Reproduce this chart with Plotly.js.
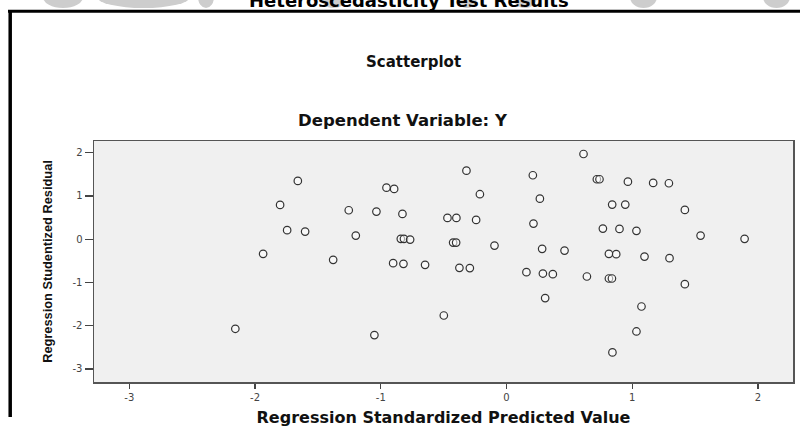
<!DOCTYPE html>
<html><head><meta charset="utf-8">
<script src="https://cdn.plot.ly/plotly-3.0.1.min.js"></script>
<style>html,body{margin:0;padding:0;background:#fff;}#chart{width:800px;height:429px;}</style>
</head><body><div id="chart"></div>
<script>
// Regression standardized predicted value (x) and studentized residual (y)
const predicted = [
 -1.660,-1.801,-1.745,-1.602,-1.936,-2.157,
 -0.319,0.209,-0.955,-0.894,-0.212,0.265,-1.255,-1.035,-0.828,-0.470,-0.399,-0.242,0.214,
 -1.199,-0.841,-0.816,-0.767,-0.425,-0.401,-0.096,0.283,-1.379,-0.902,-0.820,-0.648,-0.375,
 -0.292,0.158,0.289,0.307,-0.499,-1.051,
 0.612,0.718,0.739,0.965,1.166,1.291,0.840,0.944,1.418,0.766,0.898,1.033,1.543,1.893,
 0.461,0.814,0.872,1.097,1.296,0.368,0.639,0.814,0.838,1.418,1.073,1.033,0.842
];
const residual = [
 1.346,0.792,0.208,0.175,-0.339,-2.071,
 1.584,1.477,1.191,1.161,1.039,0.937,0.669,0.637,0.584,0.492,0.492,0.446,0.360,
 0.083,0.007,0.007,-0.009,-0.078,-0.078,-0.148,-0.224,-0.478,-0.554,-0.570,-0.593,-0.663,
 -0.669,-0.762,-0.794,-1.362,-1.764,-2.216,
 1.969,1.385,1.385,1.330,1.300,1.293,0.799,0.799,0.676,0.245,0.238,0.192,0.083,0.007,
 -0.263,-0.339,-0.346,-0.402,-0.439,-0.808,-0.863,-0.909,-0.909,-1.039,-1.556,-2.133,-2.618
];
const xTickVals = [-3,-2,-1,0,1,2];
const xTickText = ['-3','-2','-1','0','1','2'];
const yTickVals = [-3,-2,-1,0,1,2];
const yTickText = ['-3','-2','-1','0','1','2'];
const chartTitle = 'Heteroscedasticity Test Results';
const plotTitle = 'Scatterplot';
const subTitle = 'Dependent Variable: Y';
const xTitle = 'Regression Standardized Predicted Value';
const yTitle = 'Regression Studentized Residual';

const W = 800, H = 429, M = {l:94, r:7, t:141, b:47};
const pw = W - M.l - M.r, ph = H - M.t - M.b;
const px = v => (v - M.l) / pw;
const py = v => (H - M.b - v) / ph;

const boldFont = 'DejaVu Sans, Verdana, sans-serif';

const trace = {
  type: 'scatter', mode: 'markers',
  x: predicted, y: residual,
  marker: {symbol: 'circle', size: 7.5, color: 'rgba(255,255,255,0.55)',
           line: {color: '#333333', width: 1.2}},
  hoverinfo: 'x+y', showlegend: false
};

// watermark fragments visible above the frame
const blobs = [[43,83],[97,190],[198,214],[320,347],[457,477],[513,537],[630,657],[763,790]];
const shapes = blobs.map(b => ({
  type: 'circle', xref: 'paper', yref: 'paper', layer: 'below',
  x0: px(b[0]), x1: px(b[1]), y0: py(8), y1: py(-14),
  fillcolor: '#cdcdcd', line: {width: 0}
}));
shapes.push(
  {type: 'line', xref: 'paper', yref: 'paper', x0: px(8), x1: px(801), y0: py(11.3), y1: py(11.3),
   line: {color: '#000', width: 3}},
  {type: 'line', xref: 'paper', yref: 'paper', x0: px(10.2), x1: px(10.2), y0: py(10), y1: py(417),
   line: {color: '#000', width: 3.5}}
);

const layout = {
  width: W, height: H,
  margin: {l: M.l, r: M.r, t: M.t, b: M.b, pad: 0},
  paper_bgcolor: '#ffffff', plot_bgcolor: '#f0f0f0',
  font: {family: boldFont, color: '#333'},
  xaxis: {
    range: [-3.281, 2.278], tickvals: xTickVals, ticktext: xTickText, ticks: 'outside', ticklen: 5, tickwidth: 1.3,
    tickcolor: '#444', showline: true, mirror: true, linecolor: '#555', linewidth: 1.5,
    showgrid: false, zeroline: false, tickfont: {size: 10, color: '#444', family: boldFont},
    title: {text: xTitle, standoff: 10, font: {size: 16, color: '#111', family: boldFont, weight: 'bold'}}
  },
  yaxis: {
    range: [-3.301, 2.269], tickvals: yTickVals, ticktext: yTickText, ticks: 'outside', ticklen: 8, tickwidth: 1.3,
    tickcolor: '#444', showline: true, mirror: true, linecolor: '#555', linewidth: 1.5,
    showgrid: false, zeroline: false, tickfont: {size: 10, color: '#444', family: boldFont},
    title: {text: yTitle, standoff: 17,
            font: {size: 12.8, color: '#111', family: 'Liberation Sans, Arial, sans-serif', weight: 'bold'}}
  },
  shapes: shapes,
  annotations: [
    {text: '<b>' + chartTitle + '</b>', xref: 'paper', yref: 'paper', x: px(409), y: py(0),
     xanchor: 'center', yanchor: 'middle', showarrow: false,
     font: {size: 18, color: '#000', family: boldFont}},
    {text: '<b>' + plotTitle + '</b>', xref: 'paper', yref: 'paper', x: px(413), y: py(62),
     xanchor: 'center', yanchor: 'middle', showarrow: false,
     font: {size: 15, color: '#111', family: boldFont}},
    {text: '<b>' + subTitle + '</b>', xref: 'paper', yref: 'paper', x: px(403), y: py(120),
     xanchor: 'center', yanchor: 'middle', showarrow: false,
     font: {size: 16.5, color: '#111', family: boldFont}}
  ]
};

Plotly.newPlot('chart', [trace], layout, {displayModeBar: false, staticPlot: true});
</script></body></html>
